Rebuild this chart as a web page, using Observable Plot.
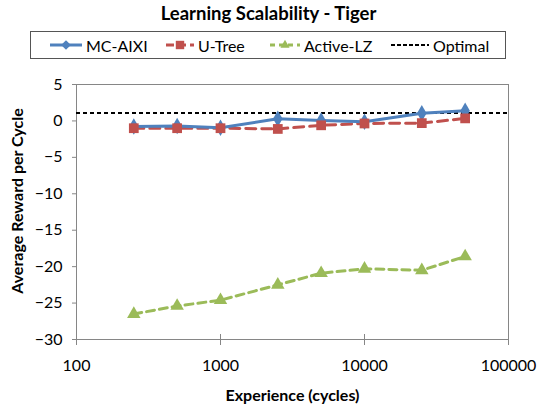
<!DOCTYPE html>
<html>
<head>
<meta charset="utf-8">
<script src="https://cdn.jsdelivr.net/npm/d3@7"></script>
<script src="https://cdn.jsdelivr.net/npm/@observablehq/plot@0.6"></script>
<style>
  html, body { margin: 0; padding: 0; background: #fff; }
  body { width: 537px; height: 416px; position: relative; font-family: Lato, "Open Sans", sans-serif; overflow: hidden; }
  #title { position: absolute; left: 0; top: 2px; width: 537px; text-align: center; font-weight: bold; font-size: 18.5px; color: #000; }
  #legend { position: absolute; left: 30px; top: 31px; width: 474px; height: 26px; border: 1px solid #555; box-sizing: content-box; }
  .item { position: absolute; top: 0; height: 26px; display: flex; align-items: center; font-size: 16px; color: #000; }
  .item svg { margin-right: 4px; }
  #chart { position: absolute; left: 0; top: 60px; }
</style>
</head>
<body>
<div id="title">Learning Scalability - Tiger</div>
<div id="legend"></div>
<div id="chart"></div>
<script>
const experience = [250, 500, 1000, 2500, 5000, 10000, 25000, 50000];
const mcAixi   = [-0.75, -0.7, -0.95, 0.3, 0.05, -0.1, 1.05, 1.4];
const uTree    = [-1.0, -1.0, -1.0, -1.1, -0.6, -0.35, -0.3, 0.35];
const activeLZ = [-26.5, -25.4, -24.6, -22.5, -20.9, -20.3, -20.5, -18.6];
const optimal  = 1.1;
const xTicks = [100, 1000, 10000, 100000];
const yTicks = [-30, -25, -20, -15, -10, -5, 0, 5];
const seriesNames = ["MC-AIXI", "U-Tree", "Active-LZ", "Optimal"];

const colors = {"MC-AIXI": "#4F81BD", "U-Tree": "#C0504D", "Active-LZ": "#9BBB59", "Optimal": "#000000"};

const rows = (name, vals) => experience.map((x, i) => ({series: name, x, y: vals[i]}));
const dMC = rows("MC-AIXI", mcAixi);
const dUT = rows("U-Tree", uTree);
const dLZ = rows("Active-LZ", activeLZ);

const axisColor = "#868686";
const font = "Lato, 'Open Sans', sans-serif";

const plot = Plot.plot({
  width: 537,
  height: 356,
  marginLeft: 76,
  marginRight: 29,
  marginTop: 24,
  marginBottom: 77,
  style: {fontFamily: font, fontSize: "16px", color: "#000", background: "transparent"},
  x: {type: "log", domain: [100, 100000]},
  y: {domain: [-30, 5]},
  marks: [
    Plot.frame({stroke: axisColor, strokeWidth: 1}),
    Plot.axisY({ticks: yTicks, tickSize: 4, tickPadding: 10, stroke: axisColor, fontSize: 16, label: null}),
    Plot.text(["Average Reward per Cycle"], {frameAnchor: "left", textAnchor: "middle", rotate: -90, dx: -59, dy: -11,
      fontSize: 16, fontWeight: "bold", fill: "#000"}),
    Plot.axisX({ticks: xTicks, tickSize: 11, dy: -5, text: null, label: null, stroke: axisColor}),
    Plot.axisX({ticks: xTicks, tickSize: 0, tickPadding: 20, fontSize: 16, tickFormat: d => String(d), label: null}),
    Plot.text(["Experience (cycles)"], {frameAnchor: "bottom", dy: 61, fontSize: 16, fontWeight: "bold", fill: "#000"}),
    Plot.ruleY([optimal], {stroke: "#000", strokeWidth: 2, strokeDasharray: "4,3"}),
    Plot.line(dLZ, {x: "x", y: "y", stroke: colors["Active-LZ"], strokeWidth: 3, strokeDasharray: "8,5"}),
    Plot.dot(dLZ, {x: "x", y: "y", symbol: "triangle", r: 5, fill: colors["Active-LZ"], stroke: "none"}),
    Plot.line(dUT, {x: "x", y: "y", stroke: colors["U-Tree"], strokeWidth: 3, strokeDasharray: "10,6"}),
    Plot.line(dMC, {x: "x", y: "y", stroke: colors["MC-AIXI"], strokeWidth: 3}),
    Plot.dot(dMC, {x: "x", y: "y", symbol: "diamond", r: 5, fill: colors["MC-AIXI"], stroke: "none"}),
    Plot.dot(dUT, {x: "x", y: "y", symbol: "square", r: 5.5, fill: colors["U-Tree"], stroke: "none"})
  ]
});
document.getElementById("chart").appendChild(plot);

// Legend
const legend = document.getElementById("legend");
const legendPos = {"MC-AIXI": 19, "U-Tree": 135, "Active-LZ": 239, "Optimal": 360};
const legendSym = {"MC-AIXI": "diamond", "U-Tree": "square", "Active-LZ": "triangle", "Optimal": null};
const legendDash = {"MC-AIXI": null, "U-Tree": "8,4", "Active-LZ": "5,4", "Optimal": "4,2"};
const legendWidth = {"MC-AIXI": 32, "U-Tree": 28, "Active-LZ": 30, "Optimal": 38};
seriesNames.forEach(name => {
  const div = document.createElement("div");
  div.className = "item";
  div.style.left = legendPos[name] + "px";
  const w = legendWidth[name];
  const ns = "http://www.w3.org/2000/svg";
  const svg = document.createElementNS(ns, "svg");
  svg.setAttribute("width", w);
  svg.setAttribute("height", 14);
  const line = document.createElementNS(ns, "line");
  line.setAttribute("x1", 0); line.setAttribute("x2", w);
  line.setAttribute("y1", 7); line.setAttribute("y2", 7);
  line.setAttribute("stroke", colors[name]);
  line.setAttribute("stroke-width", name === "Optimal" ? 2 : 3);
  if (legendDash[name]) line.setAttribute("stroke-dasharray", legendDash[name]);
  svg.appendChild(line);
  if (legendSym[name]) {
    const sym = {"diamond": d3.symbolDiamond2, "square": d3.symbolSquare2, "triangle": d3.symbolTriangle2}[legendSym[name]];
    const p = document.createElementNS(ns, "path");
    p.setAttribute("d", d3.symbol(sym, legendSym[name] === "square" ? 90 : 60)());
    p.setAttribute("transform", `translate(${w / 2},7)`);
    p.setAttribute("fill", colors[name]);
    svg.appendChild(p);
  }
  div.appendChild(svg);
  const span = document.createElement("span");
  span.textContent = name;
  div.appendChild(span);
  legend.appendChild(div);
});
</script>
</body>
</html>
